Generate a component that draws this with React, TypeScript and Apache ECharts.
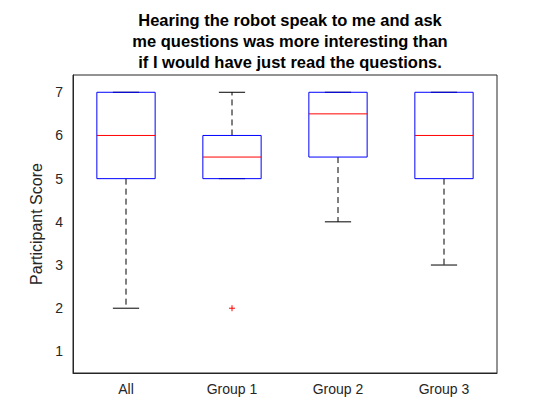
import React, { useEffect, useRef } from "react";
import * as echarts from "echarts";

const categories = ["All", "Group 1", "Group 2", "Group 3"];
// [lowerWhisker, q1, median, q3, upperWhisker]
const boxes = [
  [2, 5, 6, 7, 7],
  [5, 5, 5.5, 6, 7],
  [4, 5.5, 6.5, 7, 7],
  [3, 5, 6, 7, 7],
];
const outliers = [[1, 2]];
const yTicks = [1, 2, 3, 4, 5, 6, 7];

export default function App() {
  const ref = useRef<HTMLDivElement>(null);
  useEffect(() => {
    const chart = echarts.init(ref.current!, null, { renderer: "svg" });
    const font = "Helvetica, Arial, 'Liberation Sans', sans-serif";
    chart.setOption({
      animation: false,
      title: {
        text: "Hearing the robot speak to me and ask\nme questions was more interesting than\nif I would have just read the questions.",
        left: 285,
        textAlign: "center",
        top: 4,
        textStyle: { fontSize: 16.5, fontWeight: "bold", color: "#000", lineHeight: 21, fontFamily: font },
      },
      grid: { left: 73, right: 63, top: 75, bottom: 47, show: true, borderColor: "#262626", borderWidth: 1 },
      xAxis: {
        type: "category",
        data: categories,
        axisLine: { lineStyle: { color: "#262626" } },
        axisTick: { inside: true, alignWithLabel: true, lineStyle: { color: "#262626" } },
        axisLabel: { fontSize: 14, color: "#262626", fontFamily: font, margin: 9 },
      },
      yAxis: {
        type: "value",
        min: 0.5,
        max: 7.4,
        interval: 0.5,
        name: "Participant Score",
        nameLocation: "middle",
        nameGap: 26,
        nameTextStyle: { fontSize: 16, color: "#262626", fontFamily: font },
        splitLine: { show: false },
        axisLine: { show: true, lineStyle: { color: "#262626" } },
        axisTick: { inside: true, customValues: yTicks, lineStyle: { color: "#262626" } },
        axisLabel: { customValues: yTicks, fontSize: 14, color: "#262626", fontFamily: font, margin: 10 },
      },
      series: [
        {
          type: "custom",
          data: boxes.map((b, i) => [i, ...b]),
          renderItem: (params: any, api: any) => {
            const i = api.value(0);
            const v = [1, 2, 3, 4, 5].map((k) => api.value(k));
            const [cx] = api.coord([i, 0]);
            const bw = api.size([1, 0])[0] * 0.55;
            const cw = bw * 0.45;
            const y = v.map((val: number) => api.coord([i, val])[1]);
            const children: any[] = [
              { type: "line", shape: { x1: cx, y1: y[3], x2: cx, y2: y[4] }, style: { stroke: "#000", lineDash: [6, 4], lineWidth: 1 } },
              { type: "line", shape: { x1: cx, y1: y[1], x2: cx, y2: y[0] }, style: { stroke: "#000", lineDash: [6, 4], lineWidth: 1 } },
              { type: "line", shape: { x1: cx - cw / 2, y1: y[4], x2: cx + cw / 2, y2: y[4] }, style: { stroke: "#000", lineWidth: 1 } },
              { type: "line", shape: { x1: cx - cw / 2, y1: y[0], x2: cx + cw / 2, y2: y[0] }, style: { stroke: "#000", lineWidth: 1 } },
              { type: "rect", shape: { x: cx - bw / 2, y: y[3], width: bw, height: y[1] - y[3] }, style: { fill: "none", stroke: "#0000ff", lineWidth: 1 } },
              { type: "line", shape: { x1: cx - bw / 2, y1: y[2], x2: cx + bw / 2, y2: y[2] }, style: { stroke: "#ff0000", lineWidth: 1 } },
            ];
            return { type: "group", children };
          },
        },
        {
          type: "custom",
          data: outliers,
          renderItem: (params: any, api: any) => {
            const [x, y] = api.coord([api.value(0), api.value(1)]);
            const s = 3;
            return {
              type: "group",
              children: [
                { type: "line", shape: { x1: x - s, y1: y, x2: x + s, y2: y }, style: { stroke: "#ff0000", lineWidth: 1 } },
                { type: "line", shape: { x1: x, y1: y - s, x2: x, y2: y + s }, style: { stroke: "#ff0000", lineWidth: 1 } },
              ],
            };
          },
        },
      ],
    });
    return () => chart.dispose();
  }, []);
  return <div ref={ref} style={{ width: 560, height: 420, margin: -8 }} />;
}
